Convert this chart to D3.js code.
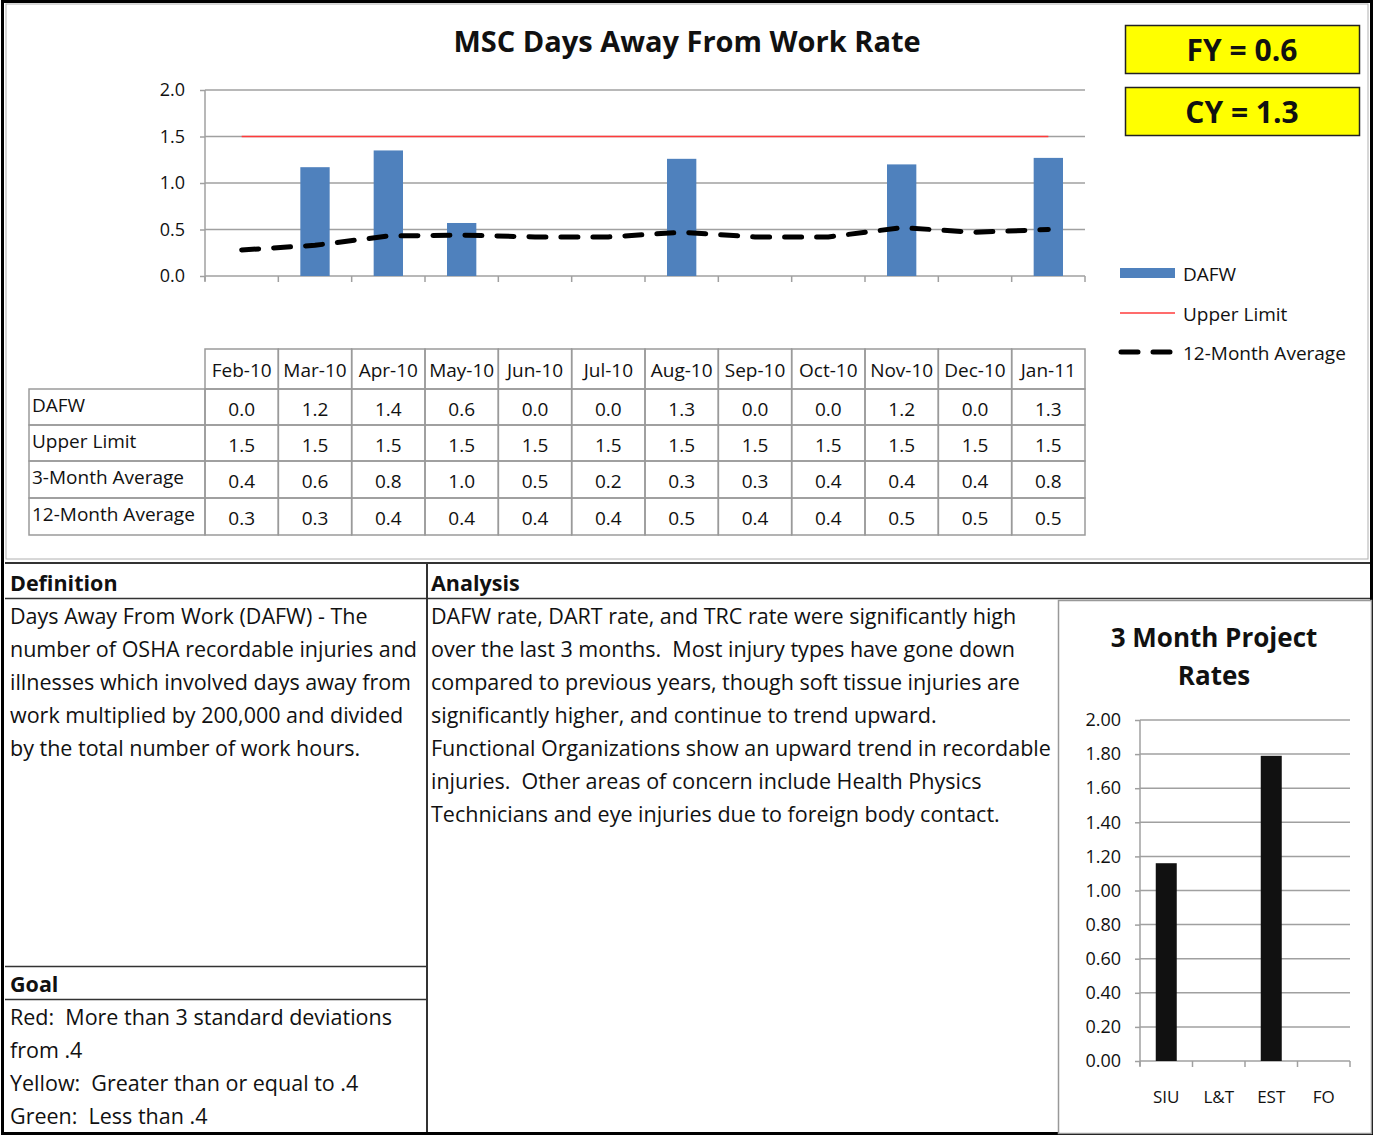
<!DOCTYPE html>
<html>
<head>
<meta charset="utf-8">
<script src="https://cdn.jsdelivr.net/npm/d3@7"></script>
<style>
  body { margin: 0; background: #fff; }
  svg text { font-family: "Open Sans", Lato, sans-serif; fill: #111; }
</style>
</head>
<body>
<div id="chart"></div>
<script>
// data
var months = ["Feb-10", "Mar-10", "Apr-10", "May-10", "Jun-10", "Jul-10", "Aug-10", "Sep-10", "Oct-10", "Nov-10", "Dec-10", "Jan-11"];
var dafw = [0.0, 1.17, 1.35, 0.57, 0.0, 0.0, 1.26, 0.0, 0.0, 1.2, 0.0, 1.27];
var upperLimit = [1.5, 1.5, 1.5, 1.5, 1.5, 1.5, 1.5, 1.5, 1.5, 1.5, 1.5, 1.5];
var avg3 = [0.4, 0.6, 0.8, 1.0, 0.5, 0.2, 0.3, 0.3, 0.4, 0.4, 0.4, 0.8];
var avg12 = [0.28, 0.33, 0.43, 0.44, 0.42, 0.42, 0.47, 0.42, 0.42, 0.52, 0.47, 0.50];
var yTicks = [0, 0.5, 1.0, 1.5, 2.0];

var fyRate = 0.6;
var cyRate = 1.3;

var projects = ["SIU", "L&T", "EST", "FO"];
var projectRates = [1.16, 0, 1.79, 0];
var projectTicks = [0, 0.2, 0.4, 0.6, 0.8, 1.0, 1.2, 1.4, 1.6, 1.8, 2.0];

var definitionLines = [
  "Days Away From Work (DAFW) - The",
  "number of OSHA recordable injuries and",
  "illnesses which involved days away from",
  "work multiplied by 200,000 and divided",
  "by the total number of work hours."
];
var analysisLines = [
  "DAFW rate, DART rate, and TRC rate were significantly high",
  "over the last 3 months.  Most injury types have gone down",
  "compared to previous years, though soft tissue injuries are",
  "significantly higher, and continue to trend upward.",
  "Functional Organizations show an upward trend in recordable",
  "injuries.  Other areas of concern include Health Physics",
  "Technicians and eye injuries due to foreign body contact."
];
var goalLines = [
  "Red:  More than 3 standard deviations",
  "from .4",
  "Yellow:  Greater than or equal to .4",
  "Green:  Less than .4"
];

var W = 1374, H = 1135;
var grid_col = "#a0a0a0";
var cell_col = "#9a9a9a";
var txt_size = "21.5px";
var tbl_size = "19px";

var svg = d3.select("#chart").append("svg")
  .attr("width", W)
  .attr("height", H);

// ---------- main chart ----------
var x = d3.scaleBand().domain(months).range([205, 1085]);
var y = d3.scaleLinear().domain([0, 2]).range([276, 90]);
var step = x.step();
var cx = function(m) { return x(m) + step / 2; };

svg.append("text")
  .attr("x", 687).attr("y", 52)
  .attr("text-anchor", "middle")
  .style("font-size", "29px").style("font-weight", "bold")
  .text("MSC Days Away From Work Rate");

// gridlines
svg.append("g").selectAll("line")
  .data(yTicks.slice(1))
  .enter().append("line")
  .attr("x1", 205).attr("x2", 1085)
  .attr("y1", function(d) { return y(d); })
  .attr("y2", function(d) { return y(d); })
  .attr("stroke", grid_col).attr("stroke-width", 1.5);

var yAxis = svg.append("g")
  .attr("transform", "translate(205,0)")
  .call(d3.axisLeft(y).tickValues(yTicks).tickFormat(d3.format(".1f")).tickSize(5).tickPadding(15));
yAxis.select(".domain").attr("stroke", grid_col).attr("stroke-width", 1.5).attr("d", "M0,90V281");
yAxis.selectAll(".tick line").attr("stroke", grid_col).attr("stroke-width", 1.5);
yAxis.selectAll(".tick text").style("font-size", "18px").style("font-family", "Open Sans").attr("fill", "#222");

// category axis with ticks between months
svg.append("line")
  .attr("x1", 205).attr("x2", 1085).attr("y1", 276).attr("y2", 276)
  .attr("stroke", grid_col).attr("stroke-width", 1.5);
svg.append("g").selectAll("line")
  .data(months.concat(["end"]))
  .enter().append("line")
  .attr("x1", function(d, i) { return 205 + i * step; })
  .attr("x2", function(d, i) { return 205 + i * step; })
  .attr("y1", 276).attr("y2", 282)
  .attr("stroke", grid_col).attr("stroke-width", 1.5);

// bars
svg.append("g").selectAll("rect")
  .data(months)
  .enter().append("rect")
  .attr("x", function(d) { return x(d) + step * 0.3; })
  .attr("width", step * 0.4)
  .attr("y", function(d, i) { return y(dafw[i]); })
  .attr("height", function(d, i) { return y(0) - y(dafw[i]); })
  .attr("fill", "#4f81bd");

// upper limit
var line = d3.line()
  .x(function(d, i) { return cx(months[i]); })
  .y(function(d) { return y(d); });

svg.append("path")
  .datum(upperLimit)
  .attr("d", line)
  .attr("fill", "none")
  .attr("stroke", "#ff3b3b").attr("stroke-width", 1.6);

// 12 month average
svg.append("path")
  .datum(avg12)
  .attr("d", line)
  .attr("fill", "none")
  .attr("stroke", "#000").attr("stroke-width", 5)
  .attr("stroke-dasharray", "17,15")
  .attr("stroke-linecap", "round");

// FY / CY boxes
[["FY = " + fyRate.toFixed(1), 25], ["CY = " + cyRate.toFixed(1), 87]].forEach(function(b) {
  svg.append("rect")
    .attr("x", 1125.5).attr("y", b[1] + 0.5).attr("width", 234).attr("height", 48)
    .attr("fill", "#ffff00").attr("stroke", "#222").attr("stroke-width", 1.5);
  svg.append("text")
    .attr("x", 1242).attr("y", b[1] + 36)
    .attr("text-anchor", "middle")
    .style("font-size", "30px").style("font-weight", "bold")
    .text(b[0]);
});

// legend
var leg = svg.append("g");
leg.append("rect").attr("x", 1120).attr("y", 268).attr("width", 55).attr("height", 10).attr("fill", "#4f81bd");
leg.append("line").attr("x1", 1120).attr("x2", 1175).attr("y1", 313).attr("y2", 313)
  .attr("stroke", "#ff3b3b").attr("stroke-width", 1.6);
leg.append("line").attr("x1", 1121).attr("x2", 1175).attr("y1", 352).attr("y2", 352)
  .attr("stroke", "#000").attr("stroke-width", 5).attr("stroke-dasharray", "17,15").attr("stroke-linecap", "round");
[["DAFW", 274], ["Upper Limit", 314], ["12-Month Average", 353]].forEach(function(l) {
  leg.append("text").attr("x", 1183).attr("y", l[1]).attr("dy", "0.35em")
    .style("font-size", tbl_size).attr("fill", "#222").text(l[0]);
});

// ---------- data table ----------
var tableRows = [
  { label: "DAFW", values: dafw },
  { label: "Upper Limit", values: upperLimit },
  { label: "3-Month Average", values: avg3 },
  { label: "12-Month Average", values: avg12 }
];
var rowTop = [389, 425, 461, 498, 535];
var fmt = d3.format(".1f");
var tbl = svg.append("g");

tbl.selectAll("rect.head")
  .data(months)
  .enter().append("rect")
  .attr("class", "head")
  .attr("x", function(d) { return x(d); }).attr("y", 349)
  .attr("width", step).attr("height", 40)
  .attr("fill", "none").attr("stroke", cell_col).attr("stroke-width", 1.5);
tbl.selectAll("text.head")
  .data(months)
  .enter().append("text")
  .attr("class", "head")
  .attr("x", function(d) { return cx(d); }).attr("y", 370).attr("dy", "0.35em")
  .attr("text-anchor", "middle")
  .style("font-size", tbl_size)
  .text(function(d) { return d; });

tableRows.forEach(function(r, ri) {
  var top = rowTop[ri], h = rowTop[ri + 1] - top;
  tbl.append("rect")
    .attr("x", 29).attr("y", top).attr("width", 176).attr("height", h)
    .attr("fill", "none").attr("stroke", cell_col).attr("stroke-width", 1.5);
  tbl.append("text")
    .attr("x", 32).attr("y", top + h / 2 - 2).attr("dy", "0.35em")
    .style("font-size", tbl_size)
    .text(r.label);
  months.forEach(function(m, i) {
    tbl.append("rect")
      .attr("x", x(m)).attr("y", top).attr("width", step).attr("height", h)
      .attr("fill", "none").attr("stroke", cell_col).attr("stroke-width", 1.5);
    tbl.append("text")
      .attr("x", cx(m)).attr("y", top + h / 2 + 2).attr("dy", "0.35em")
      .attr("text-anchor", "middle")
      .style("font-size", tbl_size)
      .text(fmt(r.values[i]));
  });
});

// ---------- frames ----------
svg.append("rect")
  .attr("x", 6).attr("y", 4).attr("width", 1362).attr("height", 555)
  .attr("fill", "none").attr("stroke", "#b0b0b0").attr("stroke-width", 1);
svg.append("line").attr("x1", 5).attr("x2", 1372).attr("y1", 563).attr("y2", 563)
  .attr("stroke", "#333").attr("stroke-width", 2);
svg.append("line").attr("x1", 5).attr("x2", 1372).attr("y1", 598.5).attr("y2", 598.5)
  .attr("stroke", "#333").attr("stroke-width", 1.5);
svg.append("line").attr("x1", 427).attr("x2", 427).attr("y1", 563).attr("y2", 1133)
  .attr("stroke", "#333").attr("stroke-width", 2);
svg.append("line").attr("x1", 5).attr("x2", 427).attr("y1", 966.5).attr("y2", 966.5)
  .attr("stroke", "#333").attr("stroke-width", 1.5);
svg.append("line").attr("x1", 5).attr("x2", 427).attr("y1", 999.5).attr("y2", 999.5)
  .attr("stroke", "#333").attr("stroke-width", 1.5);
svg.append("rect")
  .attr("x", 2.5).attr("y", 1.5).attr("width", 1369).attr("height", 1132)
  .attr("fill", "none").attr("stroke", "#000").attr("stroke-width", 3);

// ---------- text panels ----------
function header(txt, x0, yb) {
  svg.append("text").attr("x", x0).attr("y", yb)
    .style("font-size", txt_size).style("font-weight", "bold").text(txt);
}
function para(lines, x0, y0) {
  svg.append("g").selectAll("text")
    .data(lines)
    .enter().append("text")
    .attr("x", x0)
    .attr("y", function(d, i) { return y0 + i * 33; })
    .attr("xml:space", "preserve")
    .style("white-space", "pre")
    .style("font-size", txt_size)
    .text(function(d) { return d; });
}
header("Definition", 10, 591);
para(definitionLines, 10, 624);
header("Analysis", 431, 591);
para(analysisLines, 431, 624);
header("Goal", 10, 992);
para(goalLines, 10, 1025);

// ---------- 3 month project rates ----------
svg.append("rect")
  .attr("x", 1058.5).attr("y", 600.5).attr("width", 313).attr("height", 533)
  .attr("fill", "#fff").attr("stroke", "#999").attr("stroke-width", 1.5);
svg.append("text").attr("x", 1214).attr("y", 647).attr("text-anchor", "middle")
  .style("font-size", "26px").style("font-weight", "bold").text("3 Month Project");
svg.append("text").attr("x", 1214).attr("y", 685).attr("text-anchor", "middle")
  .style("font-size", "26px").style("font-weight", "bold").text("Rates");

var px = d3.scaleBand().domain(projects).range([1140, 1350]);
var py = d3.scaleLinear().domain([0, 2]).range([1061, 720]);

svg.append("g").selectAll("line")
  .data(projectTicks.slice(1))
  .enter().append("line")
  .attr("x1", 1140).attr("x2", 1350)
  .attr("y1", function(d) { return py(d); })
  .attr("y2", function(d) { return py(d); })
  .attr("stroke", grid_col).attr("stroke-width", 1.5);

var pAxis = svg.append("g")
  .attr("transform", "translate(1140,0)")
  .call(d3.axisLeft(py).tickValues(projectTicks).tickFormat(d3.format(".2f")).tickSize(5).tickPadding(14));
pAxis.select(".domain").attr("stroke", grid_col).attr("stroke-width", 1.5).attr("d", "M0,720V1066");
pAxis.selectAll(".tick line").attr("stroke", grid_col).attr("stroke-width", 1.5);
pAxis.selectAll(".tick text").style("font-size", "18px").style("font-family", "Open Sans").attr("fill", "#222");

svg.append("line").attr("x1", 1140).attr("x2", 1350).attr("y1", 1061).attr("y2", 1061)
  .attr("stroke", grid_col).attr("stroke-width", 1.5);
svg.append("g").selectAll("line")
  .data(projects.concat(["end"]))
  .enter().append("line")
  .attr("x1", function(d, i) { return 1140 + i * px.step(); })
  .attr("x2", function(d, i) { return 1140 + i * px.step(); })
  .attr("y1", 1061).attr("y2", 1067)
  .attr("stroke", grid_col).attr("stroke-width", 1.5);

svg.append("g").selectAll("rect")
  .data(projects)
  .enter().append("rect")
  .attr("x", function(d) { return px(d) + px.step() * 0.3; })
  .attr("width", px.step() * 0.4)
  .attr("y", function(d, i) { return py(projectRates[i]); })
  .attr("height", function(d, i) { return py(0) - py(projectRates[i]); })
  .attr("fill", "#111");

svg.append("g").selectAll("text")
  .data(projects)
  .enter().append("text")
  .attr("x", function(d) { return px(d) + px.step() / 2; })
  .attr("y", 1097).attr("dy", "0.35em")
  .attr("text-anchor", "middle")
  .style("font-size", "17px").attr("fill", "#222")
  .text(function(d) { return d; });
</script>
</body>
</html>
